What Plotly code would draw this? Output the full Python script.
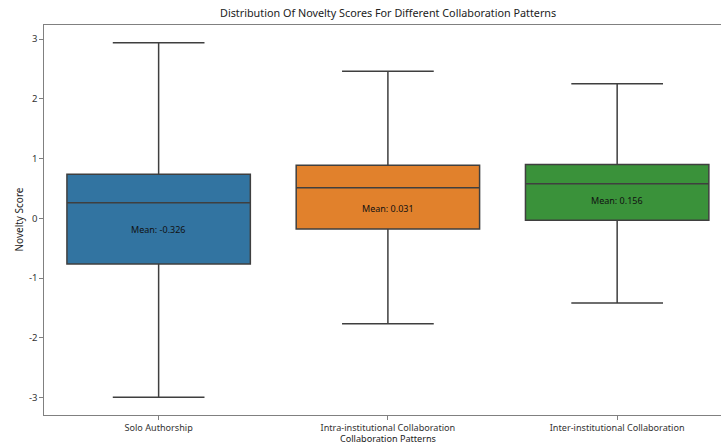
import plotly.graph_objects as go

categories = ["Solo Authorship", "Intra-institutional Collaboration", "Inter-institutional Collaboration"]
lower_whisker = [-2.995, -1.765, -1.415]
q1_values = [-0.763, -0.18, -0.03]
medians = [0.26, 0.51, 0.58]
q3_values = [0.74, 0.89, 0.90]
upper_whisker = [2.94, 2.46, 2.25]
means = [-0.326, 0.031, 0.156]
colors = ["#3274a1", "#e1812c", "#3a923a"]
y_ticks = [-3, -2, -1, 0, 1, 2, 3]
y_tick_labels = ["-3", "-2", "-1", "0", "1", "2", "3"]

W, H = 721, 444
L, R, T, B = 43.6, 0, 25, 29
line_gray = "#3f3f3f"
font_family = "Noto Sans, Open Sans, sans-serif"

fig = go.Figure()
for i, cat in enumerate(categories):
    fig.add_trace(go.Box(
        x=[i],
        q1=[q1_values[i]], median=[medians[i]], q3=[q3_values[i]],
        lowerfence=[lower_whisker[i]], upperfence=[upper_whisker[i]],
        width=0.8, whiskerwidth=0.5,
        fillcolor=colors[i],
        line=dict(color=line_gray, width=1.5),
        boxpoints=False, hoverinfo="skip", showlegend=False,
    ))
    fig.add_annotation(
        x=i, y=means[i], xref="x", yref="y",
        text=f"Mean: {means[i]:.3f}", showarrow=False,
        yanchor="bottom", xanchor="center",
        font=dict(family=font_family, size=9, color="#111111"),
    )

px_per_unit = 229.4
x_right = -0.5 + (W - L - R) / px_per_unit
plot_w = W - L - R
center_px = L + (1.0 - (-0.5)) * px_per_unit
title_frac = (center_px - L) / plot_w

fig.update_layout(
    width=W, height=H,
    margin=dict(l=L, r=R, t=T, b=B, pad=0, autoexpand=False),
    paper_bgcolor="white", plot_bgcolor="white",
    boxmode="overlay",
    font=dict(family=font_family, size=9.3, color="#333333"),
    xaxis=dict(
        range=[-0.5, x_right], automargin=False,
        tickmode="array", tickvals=[0, 1, 2], ticktext=categories,
        showline=True, linecolor="#808080", linewidth=1.2, mirror=True,
        ticks="outside", ticklen=3.5, tickcolor="#808080",
        showgrid=False, zeroline=False,
        tickfont=dict(size=9.1, color="#333333"),
    ),
    yaxis=dict(
        range=[-3.29, 3.235], automargin=False,
        tickmode="array", tickvals=y_ticks, ticktext=y_tick_labels,
        showline=True, linecolor="#808080", linewidth=1.2,
        ticks="outside", ticklen=3.5, tickcolor="#808080",
        showgrid=False, zeroline=False,
        tickfont=dict(size=9.5, color="#333333"),
    ),
)

fig.add_annotation(
    x=title_frac, y=1, xref="paper", yref="paper",
    yshift=3, yanchor="bottom", xanchor="center", showarrow=False,
    text="Distribution Of Novelty Scores For Different Collaboration Patterns",
    font=dict(family=font_family, size=10.8, color="#222222"),
)
fig.add_annotation(
    x=title_frac, y=0, xref="paper", yref="paper",
    yshift=-15, yanchor="top", xanchor="center", showarrow=False,
    text="Collaboration Patterns",
    font=dict(family=font_family, size=9.1, color="#222222"),
)
fig.add_annotation(
    x=0, y=0.5, xref="paper", yref="paper",
    xshift=-25.5, xanchor="center", yanchor="middle", showarrow=False,
    textangle=-90, text="Novelty Score",
    font=dict(family=font_family, size=10, color="#222222"),
)

fig.write_html(
    "out.html",
    config={"displayModeBar": False},
    post_script="document.body.style.margin='0';document.body.style.overflow='hidden';",
)
